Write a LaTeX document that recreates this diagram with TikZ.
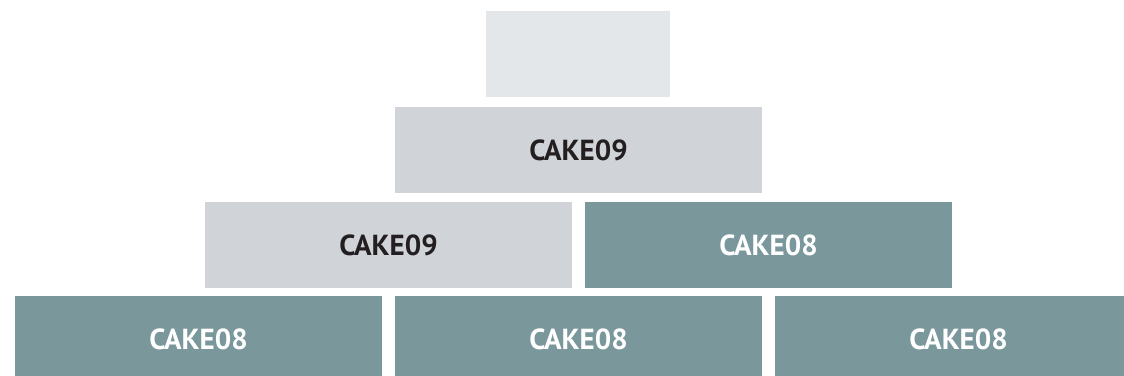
\documentclass[tikz,border=0pt]{standalone}
\usepackage{fontspec}
\setmainfont{PT Sans}
\definecolor{toplt}{HTML}{E3E7EA}
\definecolor{midgray}{HTML}{D0D3D8}
\definecolor{teal}{HTML}{7A989C}
\definecolor{darktxt}{HTML}{231F20}
\begin{document}
\begin{tikzpicture}[x=1pt,y=-1pt,
  layer/.style={rectangle, draw=none, inner sep=0pt, minimum height=86pt,
    font=\fontsize{29}{30}\selectfont\bfseries},
  graybox/.style={layer, fill=midgray, text=darktxt, minimum width=367pt},
  tealbox/.style={layer, fill=teal, text=white, minimum width=367pt}]
\useasboundingbox[fill=white] (0,0) rectangle (1124,375);
\node[layer, fill=toplt, minimum width=184pt] (top) at (578,54) {};
\node[graybox] (r2) at (578.5,150) {CAKE09};
\node[graybox] (r3a) at (388.5,245) {CAKE09};
\node[tealbox] (r3b) at (768.5,245) {CAKE08};
\node[tealbox] (r4a) at (198.5,339) {CAKE08};
\node[tealbox] (r4b) at (578.5,339) {CAKE08};
\node[tealbox] (r4c) at (958.5,339) {CAKE08};
\end{tikzpicture}
\end{document}
